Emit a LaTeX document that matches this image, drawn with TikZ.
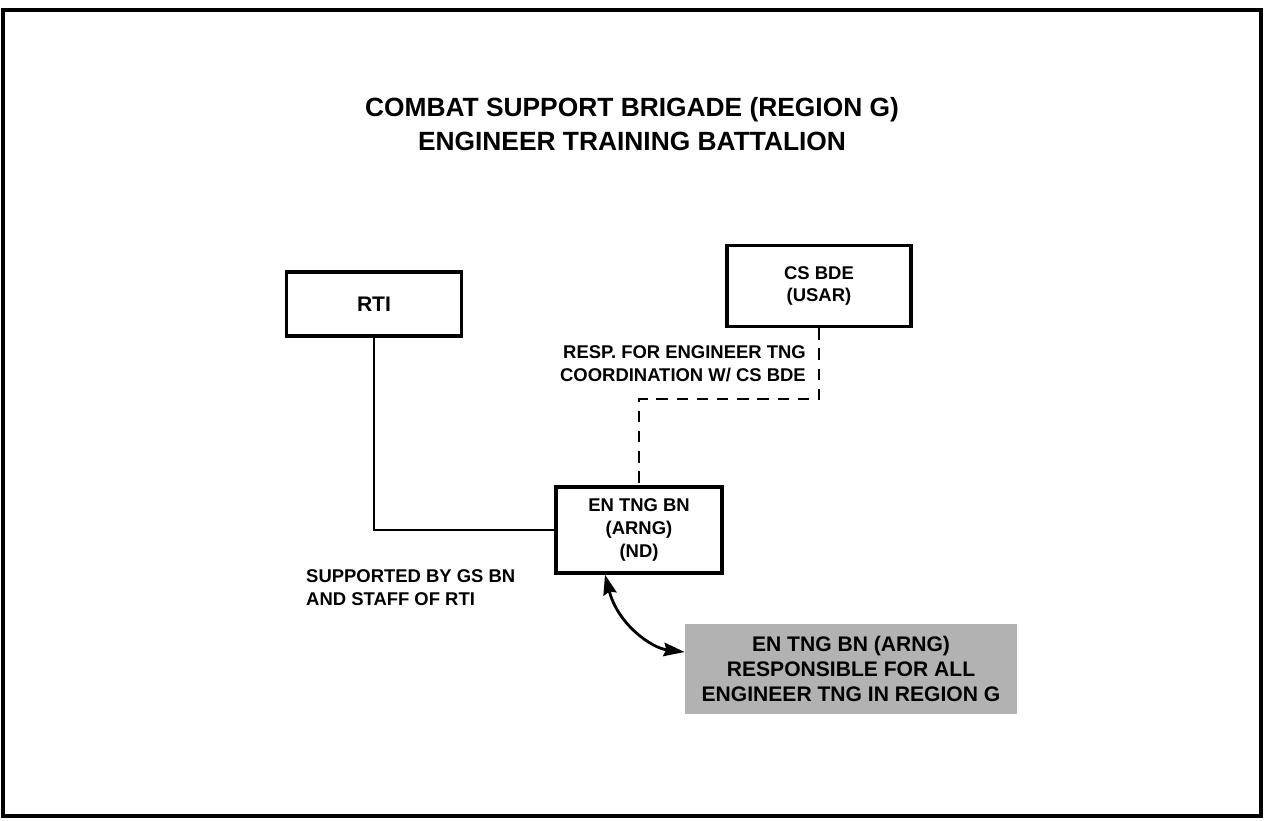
\documentclass[tikz,border=0pt]{standalone}
\usepackage{fontspec}
\setmainfont{Liberation Sans}
\usetikzlibrary{arrows.meta}

\begin{document}
\begin{tikzpicture}[
    x=0.02cm, y=-0.02cm,
% Block styles
    unit/.style={rectangle, draw, line width=1.9pt, align=center, inner sep=0pt},
    lbl/.style={font=\bfseries\fontsize{10.5}{13}\selectfont},
    note/.style={rectangle, fill=black!30, align=center, inner sep=0pt, minimum width=6.64cm, minimum height=1.8cm, font=\bfseries\fontsize{12}{14.2}\selectfont},
    link/.style={line width=1.5pt},
    coord/.style={line width=1.5pt, dash pattern=on 6.5pt off 5pt},
    dbl/.style={line width=1.6pt, {Stealth[length=0.4cm,width=0.27cm,inset=0.05cm]}-{Stealth[length=0.42cm,width=0.27cm,inset=0.05cm]}}
]
\useasboundingbox (0,0) rectangle (1265,821);

% Frame
\draw[line width=2.2pt] (3,10) rectangle (1261,816);

% Title
\node[align=center, font=\bfseries\fontsize{15}{19.4}\selectfont] (title) at (632,124)
    {COMBAT SUPPORT BRIGADE (REGION G)\\ENGINEER TRAINING BATTALION};

% 1. Units
\node[unit, minimum width=3.5cm, minimum height=1.28cm, font=\bfseries\fontsize{12}{14}\selectfont] (rti) at (374,304) {RTI};
\node[unit, lbl, minimum width=3.68cm, minimum height=1.62cm] (csbde) at (819,286) {CS BDE\\(USAR)};
\node[unit, lbl, minimum width=3.32cm, minimum height=1.72cm] (entngbn) at (639,530) {EN TNG BN\\(ARNG)\\(ND)};

% 2. Note box
\node[note] (resp) at (851,669) {EN TNG BN (ARNG)\\RESPONSIBLE FOR ALL\\ENGINEER TNG IN REGION G};

% Lines between units
\draw[link] (rti.south) |- (entngbn.west);
\draw[coord] (csbde.south) -- ++(0,71) -| (entngbn.north);

% Labels on the lines
\node[lbl, align=right, anchor=east] (coordlbl) at (812,364) {RESP. FOR ENGINEER TNG\\COORDINATION W/ CS BDE};
\node[lbl, align=left, anchor=west] (supplbl) at (300,588) {SUPPORTED BY GS BN\\AND STAFF OF RTI};

% 3. Curved arrow to the note
\draw[dbl] ([xshift=-0.68cm]entngbn.south) .. controls +(13,50) and +(-33,-4) .. ([yshift=0.34cm]resp.west);

\end{tikzpicture}
\end{document}
